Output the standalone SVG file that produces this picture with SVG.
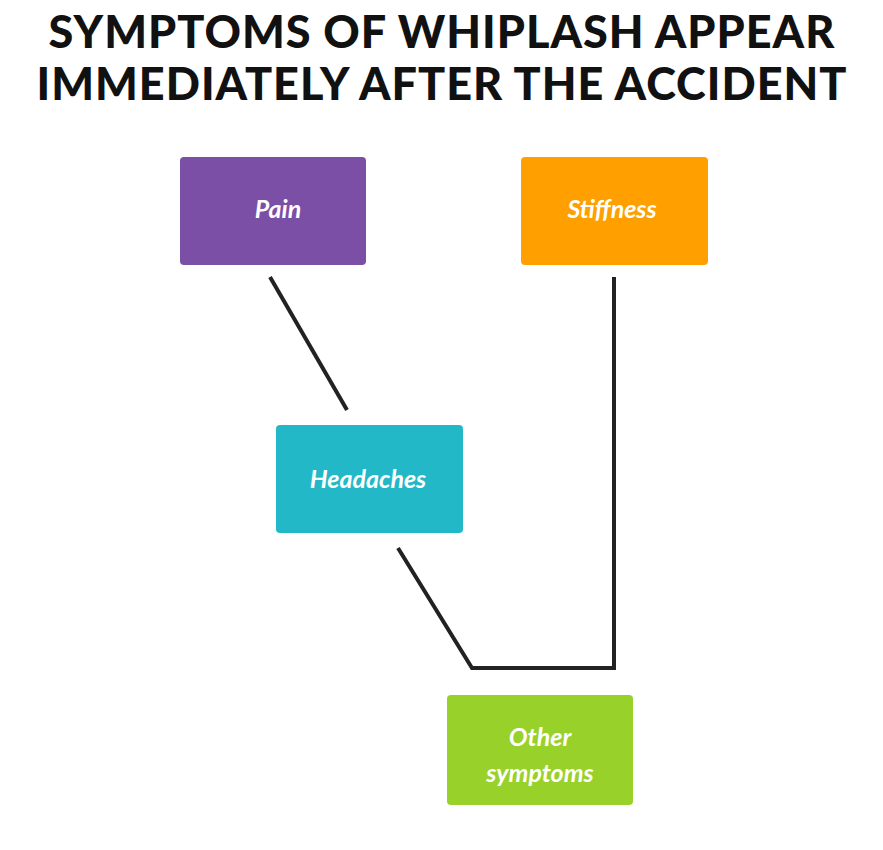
<svg xmlns="http://www.w3.org/2000/svg" width="883" height="850" viewBox="0 0 883 850">
<style>
.t{font-family:"Lato","Liberation Sans",sans-serif;font-weight:900;font-size:45px;fill:#111;text-anchor:middle;letter-spacing:1px}
.l{font-family:"Lato","Liberation Sans",sans-serif;font-weight:700;font-style:italic;font-size:25px;fill:#fff;text-anchor:middle}
.c{stroke:#222;stroke-width:4;fill:none}
</style>
<rect width="883" height="850" fill="#fff"/>
<text class="t" x="442" y="48">SYMPTOMS OF WHIPLASH APPEAR</text>
<text class="t" x="442" y="100">IMMEDIATELY AFTER THE ACCIDENT</text>
<g id="connectors">
<line class="c" x1="270" y1="277" x2="347" y2="410"/>
<polyline class="c" points="614,277 614,668 472,668 398,548"/>
</g>
<g id="pain"><rect x="180" y="157" width="186" height="108" rx="4" fill="#7B4FA6"/><text class="l" x="278" y="218">Pain</text></g>
<g id="stiffness"><rect x="521" y="157" width="187" height="108" rx="4" fill="#FFA000"/><text class="l" x="612" y="218">Stiffness</text></g>
<g id="headaches"><rect x="276" y="425" width="187" height="108" rx="4" fill="#22B8C8"/><text class="l" x="368" y="488">Headaches</text></g>
<g id="other"><rect x="447" y="695" width="186" height="110" rx="4" fill="#99D12B"/><text class="l" x="540" y="746">Other</text><text class="l" x="540" y="782">symptoms</text></g>
</svg>
